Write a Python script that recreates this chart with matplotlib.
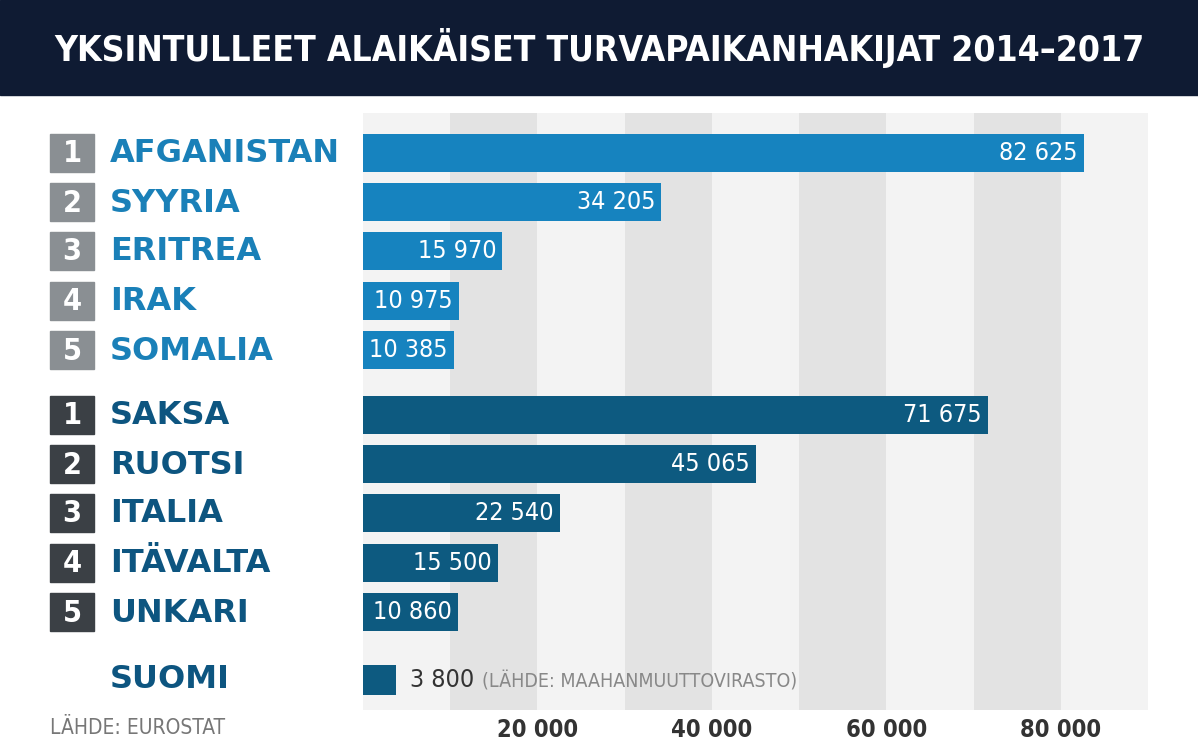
import matplotlib
matplotlib.use("Agg")
import matplotlib.pyplot as plt
from matplotlib.patches import Rectangle

origins = ["AFGANISTAN", "SYYRIA", "ERITREA", "IRAK", "SOMALIA"]
origin_vals = [82625, 34205, 15970, 10975, 10385]
dests = ["SAKSA", "RUOTSI", "ITALIA", "ITÄVALTA", "UNKARI"]
dest_vals = [71675, 45065, 22540, 15500, 10860]
suomi_val = 3800
ticks = [20000, 40000, 60000, 80000]
tick_labels = ["20 000", "40 000", "60 000", "80 000"]

W, H = 1198, 755
fig = plt.figure(figsize=(W/100, H/100), dpi=100)
fig.patch.set_facecolor("white")
FONT = "DejaVu Sans"
ST = "condensed"
def fmt(v):
    return f"{v:,}".replace(",", " ")

def px(x, y):
    return x / W, 1 - y / H

fig.patches.append(Rectangle((0, 1 - 95/H), 1, 95/H, transform=fig.transFigure,
                             color="#0f1b33", zorder=0))
fig.text(*px(599, 48), "YKSINTULLEET ALAIKÄISET TURVAPAIKANHAKIJAT 2014–2017",
         color="white", fontsize=25.5, ha="center", va="center", family=FONT,
         fontstretch=ST, fontweight="bold")

x0, x1, ytop, ybot = 363, 1148, 113, 710
ax = fig.add_axes([x0/W, 1 - ybot/H, (x1-x0)/W, (ybot-ytop)/H])
ax.set_xlim(0, 90000)
ax.set_ylim(ybot, ytop)
for i in range(9):
    ax.axvspan(i*10000, (i+1)*10000, color="#e3e3e3" if i % 2 else "#f3f3f3", lw=0, zorder=0)
for s in ax.spines.values():
    s.set_visible(False)
ax.set_yticks([])
ax.set_xticks(ticks)
ax.set_xticklabels(tick_labels, fontsize=17, color="#333333", family=FONT,
                   fontweight="bold", fontstretch=ST)
ax.tick_params(axis="x", length=0, pad=6)

ys_top = [153, 202, 251, 301, 350]
ys_bot = [415, 464, 513, 563, 612]
c_top, c_bot = "#1683bf", "#0d5a80"
bh = 38
groups = [(origins, origin_vals, ys_top, c_top, "#8a8f93", "#1a80b8"),
          (dests, dest_vals, ys_bot, c_bot, "#3b4045", "#0d5580")]
for names, vals, ys, col, boxc, txtc in groups:
    ax.barh(ys, vals, height=bh, color=col, zorder=2)
    for i, (n, v, y) in enumerate(zip(names, vals, ys)):
        ax.text(v - 700, y, fmt(v), color="white", fontsize=18, ha="right",
                va="center", family=FONT, fontstretch=ST, zorder=3)
        fig.patches.append(Rectangle(px(50, y + 19), 44/W, 38/H, transform=fig.transFigure,
                                     color=boxc, zorder=1))
        fig.text(*px(72, y + 1), str(i + 1), color="white", fontsize=22, ha="center",
                 va="center", family=FONT, fontweight="bold", fontstretch=ST)
        fig.text(*px(110, y + 1), n, color=txtc, fontsize=23,
                 ha="left", va="center", family=FONT, fontweight="bold")

ax.barh([680], [suomi_val], height=30, color=c_bot, zorder=2)
ax.annotate(fmt(suomi_val), (suomi_val, 680), xytext=(10, 0), textcoords="offset points",
            color="#333333", fontsize=18, ha="left", va="center", family=FONT, fontstretch=ST)
ax.annotate("(LÄHDE: MAAHANMUUTTOVIRASTO)", (suomi_val, 680), xytext=(62, -1),
            textcoords="offset points", color="#888888", fontsize=14, ha="left",
            va="center", family=FONT, fontstretch=ST)
fig.text(*px(110, 680), "SUOMI", color="#0d5580", fontsize=23, ha="left",
         va="center", family=FONT, fontweight="bold")
fig.text(*px(50, 728), "LÄHDE: EUROSTAT", color="#777777", fontsize=15,
         ha="left", va="center", family=FONT, fontstretch=ST)

fig.savefig("out.png", dpi=100)
